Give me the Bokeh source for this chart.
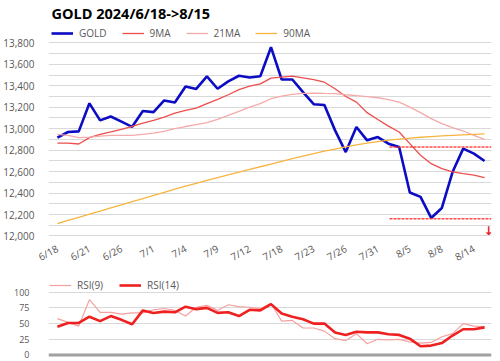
from bokeh.plotting import figure
from bokeh.layouts import column
from bokeh.models import (Legend, LegendItem, Range1d, FixedTicker, NumeralTickFormatter,
                          Label, Span)
from bokeh.embed import file_html
from bokeh.resources import INLINE

title_text = "GOLD 2024/6/18->8/15"
tick_labels = ["6/18", "6/21", "6/26", "7/1", "7/4", "7/9", "7/12", "7/18",
               "7/23", "7/26", "7/31", "8/5", "8/8", "8/14"]
tick_index = [0, 3, 6, 9, 12, 15, 18, 21, 24, 27, 30, 33, 36, 39]
price_ticks = [12000, 12200, 12400, 12600, 12800, 13000, 13200, 13400, 13600, 13800]
price_grid = [12000, 12100, 12200, 12300, 12400, 12500, 12600, 12700, 12800, 12900,
              13000, 13100, 13200, 13300, 13400, 13500, 13600, 13700, 13800]
rsi_ticks = [0, 25, 50, 75, 100]

gold = [12916, 12969, 12975, 13236, 13077, 13113, 13065, 13017, 13165, 13154,
        13263, 13244, 13393, 13370, 13487, 13372, 13440, 13493, 13477, 13489,
        13759, 13458, 13458, 13340, 13228, 13220, 12984, 12782, 13015, 12891,
        12922, 12860, 12829, 12405, 12364, 12168, 12261, 12596, 12814, 12767, 12699]
ma9 = [12866, 12866, 12857, 12916, 12947, 12969, 12993, 13021, 13052, 13077,
       13108, 13145, 13170, 13192, 13233, 13273, 13316, 13363, 13396, 13418,
       13471, 13480, 13489, 13474, 13456, 13433, 13372, 13300, 13247, 13149,
       13086, 13024, 12969, 12860, 12752, 12674, 12628, 12597, 12581, 12566, 12544]
ma21 = [12947, 12938, 12916, 12922, 12931, 12938, 12938, 12938, 12947, 12959,
        12975, 13000, 13020, 13037, 13056, 13086, 13124, 13161, 13201, 13233,
        13279, 13303, 13319, 13328, 13331, 13328, 13326, 13316, 13307, 13298,
        13288, 13270, 13247, 13201, 13149, 13093, 13047, 13009, 12978, 12938, 12900]
ma90 = [12116, 12145, 12174, 12203, 12232, 12261, 12290, 12320, 12349, 12378,
        12407, 12436, 12465, 12491, 12517, 12543, 12569, 12595, 12620, 12645,
        12670, 12695, 12720, 12744, 12768, 12790, 12810, 12830, 12848, 12865,
        12880, 12893, 12903, 12912, 12920, 12926, 12932, 12937, 12942, 12947, 12952]
rsi9 = [58, 52, 46, 88, 68, 68, 65, 67, 67, 72, 74, 71, 62, 76, 79, 71, 80, 77, 76, 74,
        82, 54, 55, 43, 43, 38, 26, 23, 34, 18, 25, 24, 25, 21, 19, 20, 29, 34, 50, 46, 45]
rsi14 = [45, 51, 51, 61, 54, 62, 56, 49, 71, 67, 69, 68, 77, 73, 75, 67, 68, 62, 72, 71,
         81, 66, 61, 57, 50, 50, 36, 32, 37, 36, 36, 33, 32, 26, 14, 15, 19, 31, 41, 41, 44]
resistance = 12829
support = 12160
mark_from = 31.1
arrow_text = "\u2193"

x = list(range(len(gold)))
FONT = "Open Sans"
TXT = "#595959"
GRID = "#d9d9d9"
X_END = 40.648
XR = Range1d(-0.833, X_END)

p1 = figure(width=500, height=277, x_range=XR,
            y_range=Range1d(11995, 13980), output_backend="svg",
            toolbar_location=None, min_border_left=43, min_border_right=9,
            min_border_top=23, min_border_bottom=41)
p1.outline_line_color = None
p1.title.text = title_text
p1.title.text_font = FONT
p1.title.text_font_style = "bold"
p1.title.text_font_size = "14.5px"
p1.title.text_color = "black"
p1.title.standoff = 2
p1.title.offset = 3

r_gold = p1.line(x, gold, line_color="#0c0cc4", line_width=2.6)
r_ma9 = p1.line(x, ma9, line_color="#ee4d4d", line_width=1.3)
r_ma21 = p1.line(x, ma21, line_color="#f5aaaa", line_width=1.3)
r_ma90 = p1.line(x, ma90, line_color="#f7b540", line_width=1.3)

xs_mark = [mark_from, X_END]
p1.line(xs_mark, [resistance, resistance], line_color="#ff2a2a", line_width=1.6,
        line_dash="3 1", line_alpha=0.85)
p1.line(xs_mark, [support, support], line_color="#ff2a2a", line_width=1.6,
        line_dash="3 1", line_alpha=0.85)

p1.add_layout(Label(x=40.38, y=12050, text=arrow_text, text_color="#e8191f",
                    text_font="DejaVu Sans", text_font_size="12px",
                    text_font_style="bold", text_align="center",
                    text_baseline="middle"))

def style_legend(leg, size, spacing, margin):
    leg.margin = margin
    leg.padding = 0
    leg.spacing = spacing
    leg.glyph_width = 22
    leg.glyph_height = 12
    leg.label_height = 12
    leg.label_standoff = 6
    leg.label_text_font = FONT
    leg.label_text_font_size = size
    leg.label_text_color = TXT
    leg.border_line_color = None
    leg.background_fill_alpha = 0

leg1 = Legend(items=[LegendItem(label="GOLD", renderers=[r_gold]),
                     LegendItem(label="9MA", renderers=[r_ma9]),
                     LegendItem(label="21MA", renderers=[r_ma21]),
                     LegendItem(label="90MA", renderers=[r_ma90])],
              orientation="horizontal", location="top_left")
style_legend(leg1, "10px", 15, 3)
p1.add_layout(leg1)

p1.yaxis.ticker = FixedTicker(ticks=price_ticks)
p1.yaxis.formatter = NumeralTickFormatter(format="0,0")
p1.ygrid.ticker = FixedTicker(ticks=price_grid)
p1.ygrid.grid_line_color = GRID
p1.xgrid.grid_line_color = None
for ax in (p1.yaxis, p1.xaxis):
    ax.axis_line_color = None
    ax.major_tick_line_color = None
    ax.minor_tick_line_color = None
    ax.major_label_text_font = FONT
    ax.major_label_text_color = TXT
    ax.major_label_text_font_size = "10px"
p1.yaxis.major_label_standoff = 8
p1.xaxis.ticker = FixedTicker(ticks=tick_index)
p1.xaxis.major_label_overrides = {i: s for i, s in zip(tick_index, tick_labels)}
p1.xaxis.major_label_orientation = 0.5
p1.xaxis.major_label_standoff = 5

p2 = figure(width=500, height=84, x_range=XR, y_range=Range1d(-10.35, 123.4),
            output_backend="svg", toolbar_location=None, min_border_left=43,
            min_border_right=9, min_border_top=0, min_border_bottom=0)
p2.outline_line_color = None
p2.xaxis.visible = False
r9 = p2.line(x, rsi9, line_color="#f5a0a0", line_width=1.2)
r14 = p2.line(x, rsi14, line_color="#ee2020", line_width=2.6)
p2.add_layout(Span(location=0, dimension="width", line_color="#a0a0a0", line_width=3))
leg2 = Legend(items=[LegendItem(label="RSI(9)", renderers=[r9]),
                     LegendItem(label="RSI(14)", renderers=[r14])],
              orientation="horizontal", location="top_left")
style_legend(leg2, "10px", 16, 1)
p2.add_layout(leg2)

p2.yaxis.ticker = FixedTicker(ticks=rsi_ticks)
p2.ygrid.ticker = FixedTicker(ticks=rsi_ticks[1:])
p2.ygrid.grid_line_color = GRID
p2.xgrid.grid_line_color = None
p2.yaxis.axis_line_color = None
p2.yaxis.major_tick_line_color = None
p2.yaxis.minor_tick_line_color = None
p2.yaxis.major_label_text_font = FONT
p2.yaxis.major_label_text_color = TXT
p2.yaxis.major_label_text_font_size = "9px"
p2.yaxis.major_label_standoff = 13

layout = column(p1, p2, spacing=0)
open("out.html", "w").write(file_html(layout, INLINE))
